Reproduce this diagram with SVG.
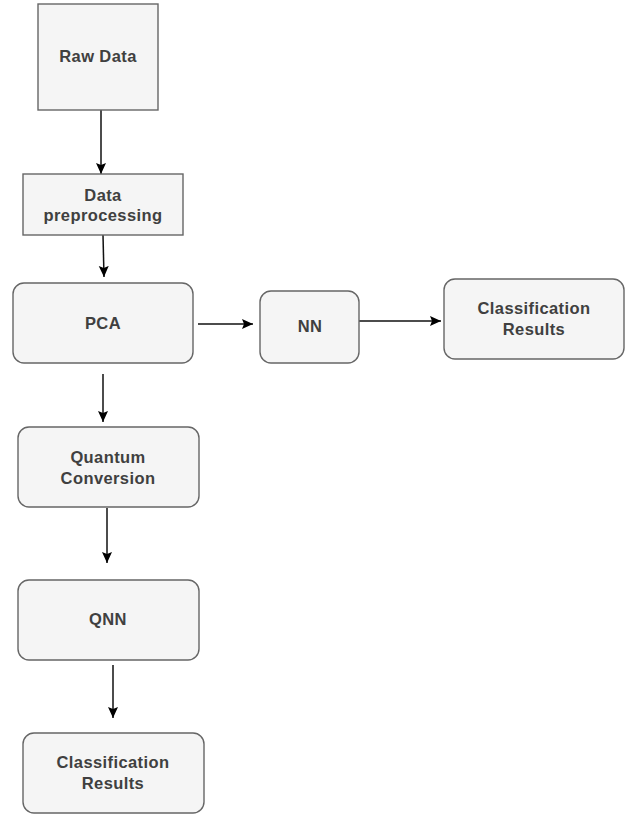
<svg xmlns="http://www.w3.org/2000/svg" width="627" height="817" viewBox="0 0 627 817">
<defs>
<marker id="ah" markerWidth="12" markerHeight="12" refX="11" refY="6" orient="auto" markerUnits="userSpaceOnUse">
<path d="M0,1 L11,6 L0,11 L2,6 Z" fill="#000"/>
</marker>
<style>
.box{fill:#f5f5f5;stroke:#666;stroke-width:1.4}
.t{font-family:"Liberation Sans",Arial,sans-serif;font-size:16.5px;font-weight:bold;fill:#404040;text-anchor:middle;letter-spacing:0.4px}
.c{stroke:#111;stroke-width:1.5;fill:none;marker-end:url(#ah)}
</style>
</defs>
<rect width="627" height="817" fill="#fff"/>
<g id="connectors">
<line class="c" x1="101" y1="110" x2="101" y2="174"/>
<line class="c" x1="103" y1="235" x2="104" y2="277"/>
<line class="c" x1="198" y1="324" x2="253" y2="324"/>
<line class="c" x1="357" y1="321" x2="441" y2="321"/>
<line class="c" x1="103" y1="374" x2="103" y2="422"/>
<line class="c" x1="107" y1="508" x2="107" y2="563"/>
<line class="c" x1="113" y1="665" x2="113" y2="718"/>
</g>
<g id="raw-data">
<rect class="box" x="38" y="4" width="120" height="106"/>
<text class="t" x="98" y="62">Raw Data</text>
</g>
<g id="data-preprocessing">
<rect class="box" x="23" y="174" width="160" height="61"/>
<text class="t" x="103" y="201">Data</text>
<text class="t" x="103" y="221">preprocessing</text>
</g>
<g id="pca">
<rect class="box" x="13" y="283" width="180" height="80" rx="11"/>
<text class="t" x="103" y="329">PCA</text>
</g>
<g id="nn">
<rect class="box" x="260" y="291" width="99" height="72" rx="11"/>
<text class="t" x="310" y="332">NN</text>
</g>
<g id="classification-results-1">
<rect class="box" x="444" y="279" width="180" height="80" rx="11"/>
<text class="t" x="534" y="314">Classification</text>
<text class="t" x="534" y="335">Results</text>
</g>
<g id="quantum-conversion">
<rect class="box" x="18" y="427" width="181" height="80" rx="11"/>
<text class="t" x="108" y="463">Quantum</text>
<text class="t" x="108" y="484">Conversion</text>
</g>
<g id="qnn">
<rect class="box" x="18" y="580" width="181" height="80" rx="11"/>
<text class="t" x="108" y="625">QNN</text>
</g>
<g id="classification-results-2">
<rect class="box" x="23" y="733" width="181" height="80" rx="11"/>
<text class="t" x="113" y="768">Classification</text>
<text class="t" x="113" y="789">Results</text>
</g>
</svg>
